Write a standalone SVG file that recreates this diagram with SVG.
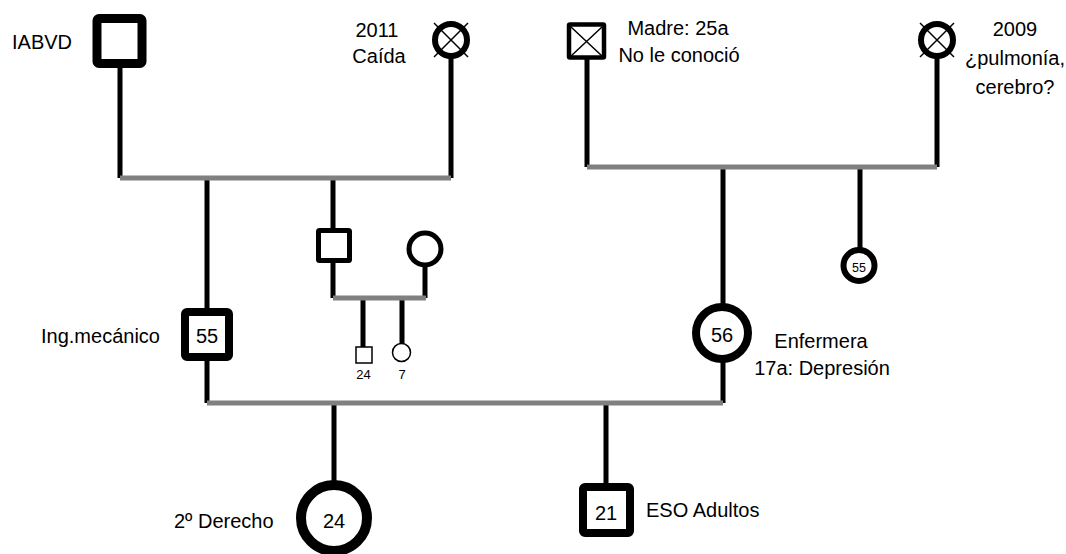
<svg xmlns="http://www.w3.org/2000/svg" width="1066" height="554" viewBox="0 0 1066 554">
<style>
text{font-family:"Liberation Sans",Arial,sans-serif;font-size:20px;fill:#000}
.c{text-anchor:middle}
.s{font-size:13px}
.line{stroke:#000;stroke-width:5;fill:none}
.rel{stroke:#808080;stroke-width:5;fill:none}
.n{fill:#fff;stroke:#000}
.x{stroke:#000;stroke-width:1.5;fill:none}
</style>
<rect width="1066" height="554" fill="#fff"/>
<g id="connectors">
<path class="line" d="M120 66V178M451 58V178M207 178V310M333 178V230M333 262V298M425 266V298M363 298V348M402 298V344M587 58V167M937 57V167M723 167V305M860 167V249M207 360V403M723 361V403M334 403V482M606 403V485"/>
<path class="rel" d="M120 178H451M333 298H426M587 167H937M207 403H723"/>
</g>
<g id="iabvd"><rect class="n" x="97" y="18.5" width="45" height="45" stroke-width="9" rx="2"/><text x="12" y="49">IABVD</text></g>
<g id="abuela-pat"><circle class="n" cx="451" cy="40" r="16" stroke-width="6"/><path class="x" d="M434 23L468 57M468 23L434 57"/><text class="c" x="377" y="37">2011</text><text class="c" x="379" y="63">Caída</text></g>
<g id="abuelo-mat"><rect class="n" x="569" y="24.5" width="35" height="33" stroke-width="4.5" rx="1"/><path class="x" d="M571 27L602 56M602 27L571 56"/><text class="c" x="678" y="35">Madre: 25a</text><text class="c" x="679" y="62">No le conoció</text></g>
<g id="abuela-mat"><circle class="n" cx="937" cy="40" r="16" stroke-width="6"/><path class="x" d="M920 23L954 57M954 23L920 57"/><text class="c" x="1015" y="36">2009</text><text class="c" x="1015" y="65">¿pulmonía,</text><text class="c" x="1015" y="94">cerebro?</text></g>
<g id="padre"><rect class="n" x="185" y="312" width="44" height="45" stroke-width="8" rx="2"/><text class="c" x="207" y="343">55</text><text x="41" y="343">Ing.mecánico</text></g>
<g id="tio"><rect class="n" x="318.5" y="230.5" width="31" height="30" stroke-width="5" rx="1"/></g>
<g id="tia"><circle class="n" cx="425" cy="249" r="16" stroke-width="5"/></g>
<g id="primo"><rect class="n" x="356" y="347" width="16" height="16" stroke-width="1.5"/><text class="c s" x="363.5" y="379">24</text></g>
<g id="prima"><circle class="n" cx="401.5" cy="352.5" r="9" stroke-width="1.5"/><text class="c s" x="402" y="379">7</text></g>
<g id="madre"><circle class="n" cx="722" cy="333" r="26" stroke-width="8"/><text class="c" x="722" y="342">56</text><text class="c" x="821" y="348">Enfermera</text><text class="c" x="822" y="375">17a: Depresión</text></g>
<g id="tia-mat"><circle class="n" cx="859" cy="265.5" r="15.5" stroke-width="6"/><text class="c" x="859" y="272" style="font-size:12.5px">55</text></g>
<g id="paciente"><circle class="n" cx="334" cy="518" r="33" stroke-width="10"/><text class="c" x="334" y="528">24</text><text x="174" y="528">2º Derecho</text></g>
<g id="hermano"><rect class="n" x="583" y="487" width="47" height="46" stroke-width="8" rx="2"/><text class="c" x="606" y="520">21</text><text x="646" y="517">ESO Adultos</text></g>
</svg>
